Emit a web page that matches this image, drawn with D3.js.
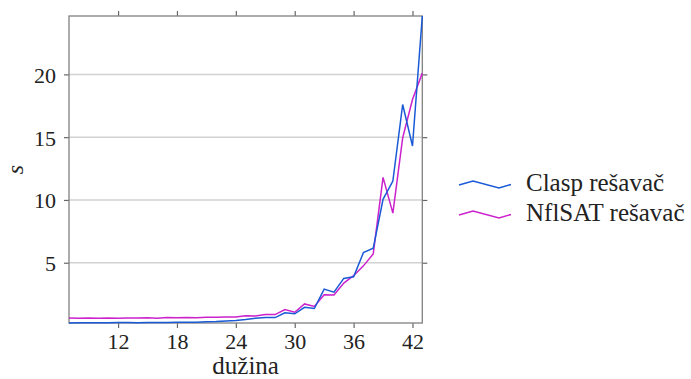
<!DOCTYPE html>
<html><head><meta charset="utf-8">
<script src="https://cdn.jsdelivr.net/npm/d3@7"></script>
</head><body style="margin:0">
<svg id="c" width="691" height="379" font-family="Liberation Serif"></svg>
<script>
const lengths = [7,8,9,10,11,12,13,14,15,16,17,18,19,20,21,22,23,24,25,26,27,28,29,30,31,32,33,34,35,36,37,38,39,40,41,42,43];
const clasp = [0.2,0.21,0.22,0.22,0.22,0.23,0.23,0.22,0.23,0.23,0.24,0.25,0.25,0.26,0.29,0.31,0.35,0.4,0.47,0.57,0.63,0.63,1.02,0.93,1.45,1.35,2.9,2.65,3.75,3.88,5.8,6.15,10.05,11.5,17.6,14.3,24.65];
const nflsat = [0.6,0.57,0.6,0.58,0.6,0.58,0.6,0.59,0.61,0.58,0.63,0.62,0.64,0.62,0.66,0.65,0.68,0.67,0.78,0.75,0.88,0.87,1.27,1.06,1.72,1.52,2.45,2.43,3.38,3.97,4.75,5.7,11.8,8.95,14.95,18.0,20.1];
const xTicks = [12,18,24,30,36,42];
const yTicks = [5,10,15,20];
const seriesNames = ["Clasp rešavač","NflSAT rešavač"];
const colors = ["#1a5ad6","#cc22cc"];

const FONT = '"Liberation Serif", "Times New Roman"';
const svg = d3.select("#c");
const L=69, R=422.3, T=16, B=323;
const x = d3.scaleLinear().domain(d3.extent(lengths)).range([L,R]);
const y = d3.scaleLinear().domain(d3.extent(clasp.concat(nflsat))).range([B,T]);

function txt(sel, size){
  return sel.attr("font-family","Liberation Serif").style("font-family",FONT).style("font-size",size+"px").attr("font-size",size).attr("fill","#222");
}

svg.append("g").selectAll("line").data(yTicks).join("line")
  .attr("x1",L).attr("x2",R).attr("y1",d=>y(d)).attr("y2",d=>y(d))
  .attr("stroke","#d2d2d2").attr("stroke-width",1.5);

const tickLen=5;
const axB = svg.append("g").attr("transform",`translate(0,${B})`).call(d3.axisBottom(x).tickValues(xTicks).tickSize(tickLen).tickPadding(5));
const axT = svg.append("g").attr("transform",`translate(0,${T})`).call(d3.axisTop(x).tickValues(xTicks).tickSize(tickLen).tickFormat(""));
const axL = svg.append("g").attr("transform",`translate(${L},0)`).call(d3.axisLeft(y).tickValues(yTicks).tickSize(tickLen).tickPadding(8));
const axR = svg.append("g").attr("transform",`translate(${R},0)`).call(d3.axisRight(y).tickValues(yTicks).tickSize(tickLen).tickFormat(""));
[axB,axT,axL,axR].forEach(a=>{
  a.attr("font-family","Liberation Serif").attr("font-size",22);
  a.select(".domain").remove();
  a.selectAll(".tick line").attr("stroke","#666").attr("stroke-width",1.2);
  txt(a.selectAll("text"),22);
});
axL.selectAll("text").attr("dy","0.36em");

svg.append("rect").attr("x",L).attr("y",T).attr("width",R-L).attr("height",B-T)
  .attr("fill","none").attr("stroke","#808080").attr("stroke-width",1.3);

const line = d3.line().x((d,i)=>x(lengths[i])).y(d=>y(d));
svg.append("path").datum(nflsat).attr("d",line).attr("fill","none").attr("stroke",colors[1]).attr("stroke-width",1.5);
svg.append("path").datum(clasp).attr("d",line).attr("fill","none").attr("stroke",colors[0]).attr("stroke-width",1.5);

txt(svg.append("text").attr("x",(L+R)/2).attr("y",374).attr("text-anchor","middle"),25).text("dužina");
txt(svg.append("text").attr("transform",`translate(23,${(T+B)/2}) rotate(-90)`).attr("text-anchor","middle"),24)
  .style("font-style","italic").text("s");

const legY=[185,215];
seriesNames.forEach((n,i)=>{
  const g = svg.append("g").attr("transform",`translate(459,${legY[i]})`);
  g.append("path").attr("d","M0,0 L14,-4 L40,3 L52,-0.5").attr("fill","none").attr("stroke",colors[i]).attr("stroke-width",1.5);
  txt(g.append("text").attr("x",67).attr("y",6),25).text(n);
});
if (document.fonts && document.fonts.load) document.fonts.load('22px "Liberation Serif"');
</script>
</body></html>
